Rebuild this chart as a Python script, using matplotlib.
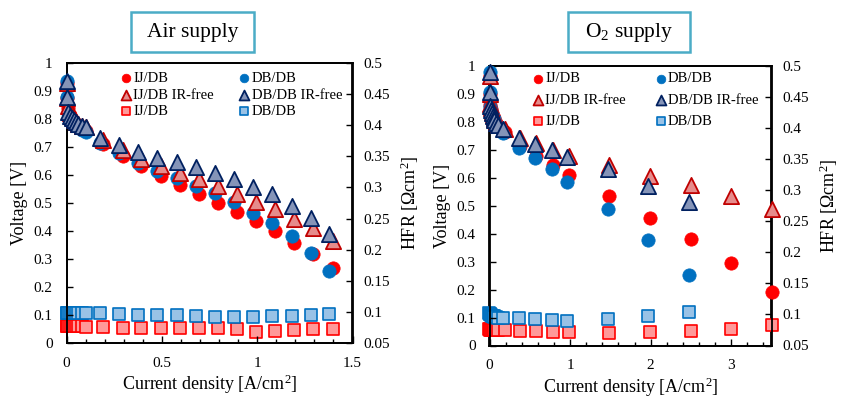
import matplotlib
matplotlib.use("Agg")
import matplotlib.pyplot as plt
from matplotlib.patches import Rectangle
from matplotlib.ticker import MultipleLocator, FuncFormatter

plt.rcParams['font.family'] = ['Liberation Serif', 'DejaVu Serif']
plt.rcParams['mathtext.fontset'] = 'custom'
plt.rcParams['mathtext.rm'] = 'Liberation Serif'
plt.rcParams['mathtext.it'] = 'Liberation Serif:italic'

# ---------------- Air supply ----------------
air_ij_I = [0, 0.003, 0.01, 0.02, 0.03, 0.04, 0.05, 0.06, 0.08, 0.1,
            0.193, 0.294, 0.393, 0.494, 0.595, 0.695, 0.794, 0.892, 0.994, 1.093, 1.193, 1.294, 1.396]
air_ij_V = [0.93, 0.875, 0.838, 0.815, 0.80, 0.79, 0.78, 0.772, 0.764, 0.756,
            0.711, 0.667, 0.633, 0.598, 0.565, 0.533, 0.501, 0.467, 0.434, 0.399, 0.357, 0.317, 0.268]
air_ij_Vir = [0.93, 0.875, 0.845, 0.822, 0.808, 0.798, 0.79, 0.783, 0.776, 0.77,
              0.726, 0.69, 0.658, 0.632, 0.608, 0.584, 0.562, 0.531, 0.505, 0.479, 0.443, 0.41, 0.364]
air_ij_HFR = [0.078, 0.078, 0.0775, 0.0775, 0.077, 0.077, 0.077, 0.077, 0.0768, 0.0765,
              0.0752, 0.0746, 0.0746, 0.0746, 0.0741, 0.0736, 0.0736, 0.072, 0.0682, 0.0698, 0.0714, 0.072, 0.0725]

air_db_I = [0, 0.003, 0.01, 0.02, 0.03, 0.04, 0.05, 0.06, 0.08, 0.1,
            0.176, 0.275, 0.373, 0.476, 0.578, 0.677, 0.777, 0.878, 0.98, 1.079, 1.182, 1.28, 1.378]
air_db_V = [0.935, 0.877, 0.82, 0.805, 0.795, 0.785, 0.777, 0.77, 0.762, 0.755,
            0.714, 0.679, 0.643, 0.613, 0.589, 0.562, 0.534, 0.504, 0.466, 0.428, 0.381, 0.323, 0.257]
air_db_Vir = [0.935, 0.877, 0.825, 0.812, 0.803, 0.795, 0.788, 0.782, 0.775, 0.77,
              0.733, 0.707, 0.681, 0.662, 0.645, 0.63, 0.606, 0.586, 0.558, 0.531, 0.49, 0.445, 0.389]
air_db_HFR = [0.099, 0.099, 0.099, 0.099, 0.099, 0.099, 0.099, 0.099, 0.0985, 0.0985,
              0.0977, 0.0966, 0.0955, 0.095, 0.0945, 0.093, 0.0923, 0.0923, 0.0923, 0.0934, 0.094, 0.095, 0.096]

# ---------------- O2 supply ----------------
o2_ij_I = [0, 0.003, 0.01, 0.02, 0.03, 0.04, 0.05, 0.06, 0.08, 0.1,
           0.19, 0.379, 0.578, 0.785, 0.992, 1.488, 1.994, 2.5, 2.996, 3.506]
o2_ij_V = [0.965, 0.90, 0.862, 0.845, 0.832, 0.822, 0.813, 0.805, 0.795, 0.787,
           0.763, 0.714, 0.678, 0.646, 0.61, 0.535, 0.455, 0.381, 0.294, 0.191]
o2_ij_Vir = [0.965, 0.90, 0.864, 0.848, 0.835, 0.826, 0.818, 0.81, 0.80, 0.794,
             0.776, 0.744, 0.723, 0.701, 0.677, 0.645, 0.606, 0.573, 0.535, 0.49]
o2_ij_HFR = [0.076, 0.076, 0.0755, 0.0755, 0.075, 0.075, 0.075, 0.075, 0.075, 0.075,
             0.075, 0.0738, 0.0729, 0.0722, 0.0717, 0.0706, 0.0717, 0.0738, 0.0766, 0.0825]

o2_db_I = [0, 0.003, 0.01, 0.02, 0.03, 0.04, 0.05, 0.06, 0.08, 0.1,
           0.164, 0.37, 0.565, 0.772, 0.967, 1.476, 1.973, 2.482]
o2_db_V = [0.98, 0.907, 0.855, 0.84, 0.828, 0.818, 0.81, 0.80, 0.79, 0.78,
           0.761, 0.708, 0.670, 0.631, 0.584, 0.487, 0.376, 0.252]
o2_db_Vir = [0.98, 0.907, 0.857, 0.843, 0.831, 0.822, 0.815, 0.806, 0.797, 0.789,
             0.775, 0.741, 0.72, 0.699, 0.673, 0.633, 0.572, 0.514]
o2_db_HFR = [0.102, 0.101, 0.1, 0.099, 0.098, 0.097, 0.097, 0.096, 0.096, 0.095,
             0.0948, 0.0938, 0.0922, 0.0911, 0.09, 0.0927, 0.098, 0.1045]

labels_ij = "IJ/DB"
labels_db = "DB/DB"

RED = '#FF0000'
BLUE = '#0070C0'
RED_TRI_FC = (0.90, 0.55, 0.55)
RED_TRI_EC = '#C00000'
BLUE_TRI_FC = (0.52, 0.58, 0.72)
BLUE_TRI_EC = '#002060'
RED_SQ_FC = (1.0, 0.60, 0.60)
BLUE_SQ_FC = (0.60, 0.76, 0.90)

fig = plt.figure(figsize=(8.41, 4.0), dpi=100)

TICK_FS = 11
LAB_FS = 13
LEG_FS = 10.5
S_C = 92
S_T = 120
S_S = 78


def draw_panel(rect, ijI, ijV, ijVir, ijH, dbI, dbV, dbVir, dbH, xmax, xmajor, xminor,
               leg_anchor, leg_labelspacing, colspacing):
    ax = fig.add_axes(rect)
    ax2 = ax.twinx()
    ax.set_zorder(ax2.get_zorder() + 1)
    ax.patch.set_visible(False)

    kw = dict(clip_on=False)
    h1 = ax.scatter(ijI, ijV, s=S_C, marker='o', color=RED, edgecolors=RED, linewidths=0.5, zorder=3, **kw)
    h4 = ax.scatter(dbI, dbV, s=S_C, marker='o', color=BLUE, edgecolors=BLUE, linewidths=0.5, zorder=3, **kw)
    h2 = ax.scatter(ijI, ijVir, s=S_T, marker='^', facecolors=RED_TRI_FC, edgecolors=RED_TRI_EC,
                    linewidths=1.3, zorder=4, **kw)
    h5 = ax.scatter(dbI, dbVir, s=S_T, marker='^', facecolors=BLUE_TRI_FC, edgecolors=BLUE_TRI_EC,
                    linewidths=1.3, zorder=4, **kw)
    h3 = ax2.scatter(ijI, ijH, s=S_S, marker='s', facecolors=RED_SQ_FC, edgecolors=RED,
                     linewidths=1.2, zorder=3, **kw)
    h6 = ax2.scatter(dbI, dbH, s=S_S, marker='s', facecolors=BLUE_SQ_FC, edgecolors=BLUE,
                     linewidths=1.2, zorder=3, **kw)

    ax.set_xlim(0, xmax)
    ax.set_ylim(0, 1)
    ax2.set_ylim(0.05, 0.5)

    ax.xaxis.set_major_locator(MultipleLocator(xmajor))
    ax.xaxis.set_minor_locator(MultipleLocator(xminor))
    ax.xaxis.set_major_formatter(FuncFormatter(lambda v, p: f"{v:g}"))
    ax.yaxis.set_major_locator(MultipleLocator(0.1))
    ax.yaxis.set_major_formatter(FuncFormatter(lambda v, p: f"{v:g}" if abs(v) > 1e-9 else "0"))
    ax2.yaxis.set_major_locator(MultipleLocator(0.05))
    ax2.yaxis.set_major_formatter(FuncFormatter(lambda v, p: f"{v:.2f}".rstrip('0').rstrip('.')))

    ax.tick_params(axis='x', which='major', direction='in', length=5, width=1, labelsize=TICK_FS, pad=10)
    ax.tick_params(axis='x', which='minor', direction='in', length=3, width=1)
    ax.tick_params(axis='y', which='major', direction='in', length=4, width=1, labelsize=TICK_FS, pad=10)
    ax2.tick_params(axis='y', which='major', direction='in', length=4, width=1, labelsize=TICK_FS, pad=8)

    for sp in ax.spines.values():
        sp.set_linewidth(1.3)
    for sp in ax2.spines.values():
        sp.set_linewidth(1.3)

    ax.set_xlabel("Current density [A/cm$^2$]", fontsize=LAB_FS, labelpad=2)
    ax.set_ylabel("Voltage [V]", fontsize=LAB_FS, labelpad=4)
    ax2.set_ylabel("HFR [\u03A9cm$^2$]", fontsize=LAB_FS, labelpad=6)

    handles = [h1, h2, h3, h4, h5, h6]
    labels = [labels_ij, labels_ij + " IR-free", labels_ij, labels_db, labels_db + " IR-free", labels_db]
    ax.legend(handles, labels, ncol=2, loc='upper left', bbox_to_anchor=leg_anchor,
              frameon=False, fontsize=LEG_FS, markerscale=0.65, handletextpad=0.0,
              handlelength=1.0, columnspacing=colspacing, labelspacing=leg_labelspacing,
              borderaxespad=0, borderpad=0)
    return ax


draw_panel([66.5 / 841, 57 / 400, 286 / 841, 280 / 400],
           air_ij_I, air_ij_V, air_ij_Vir, air_ij_HFR,
           air_db_I, air_db_V, air_db_Vir, air_db_HFR,
           1.5, 0.5, 0.1, (0.182, 0.968), 0.22, 1.6)

draw_panel([489.5 / 841, 54.5 / 400, 282 / 841, 279.5 / 400],
           o2_ij_I, o2_ij_V, o2_ij_Vir, o2_ij_HFR,
           o2_db_I, o2_db_V, o2_db_Vir, o2_db_HFR,
           3.5, 1, 0.2, (0.145, 0.978), 0.55, 1.9)

# Title boxes
BOX_C = '#4BACC6'
for (x0, x1, txt) in [(131, 254, "Air supply"), (568, 690, "O$_2$ supply")]:
    fig.patches.append(Rectangle((x0 / 841, 1 - 52 / 400), (x1 - x0) / 841, 40 / 400,
                                 transform=fig.transFigure, fill=False, edgecolor=BOX_C,
                                 linewidth=1.8))
    fig.text((x0 + x1) / 2 / 841, 1 - 32 / 400, txt, ha='center', va='center', fontsize=15.5)

fig.savefig("out.png", dpi=100)
